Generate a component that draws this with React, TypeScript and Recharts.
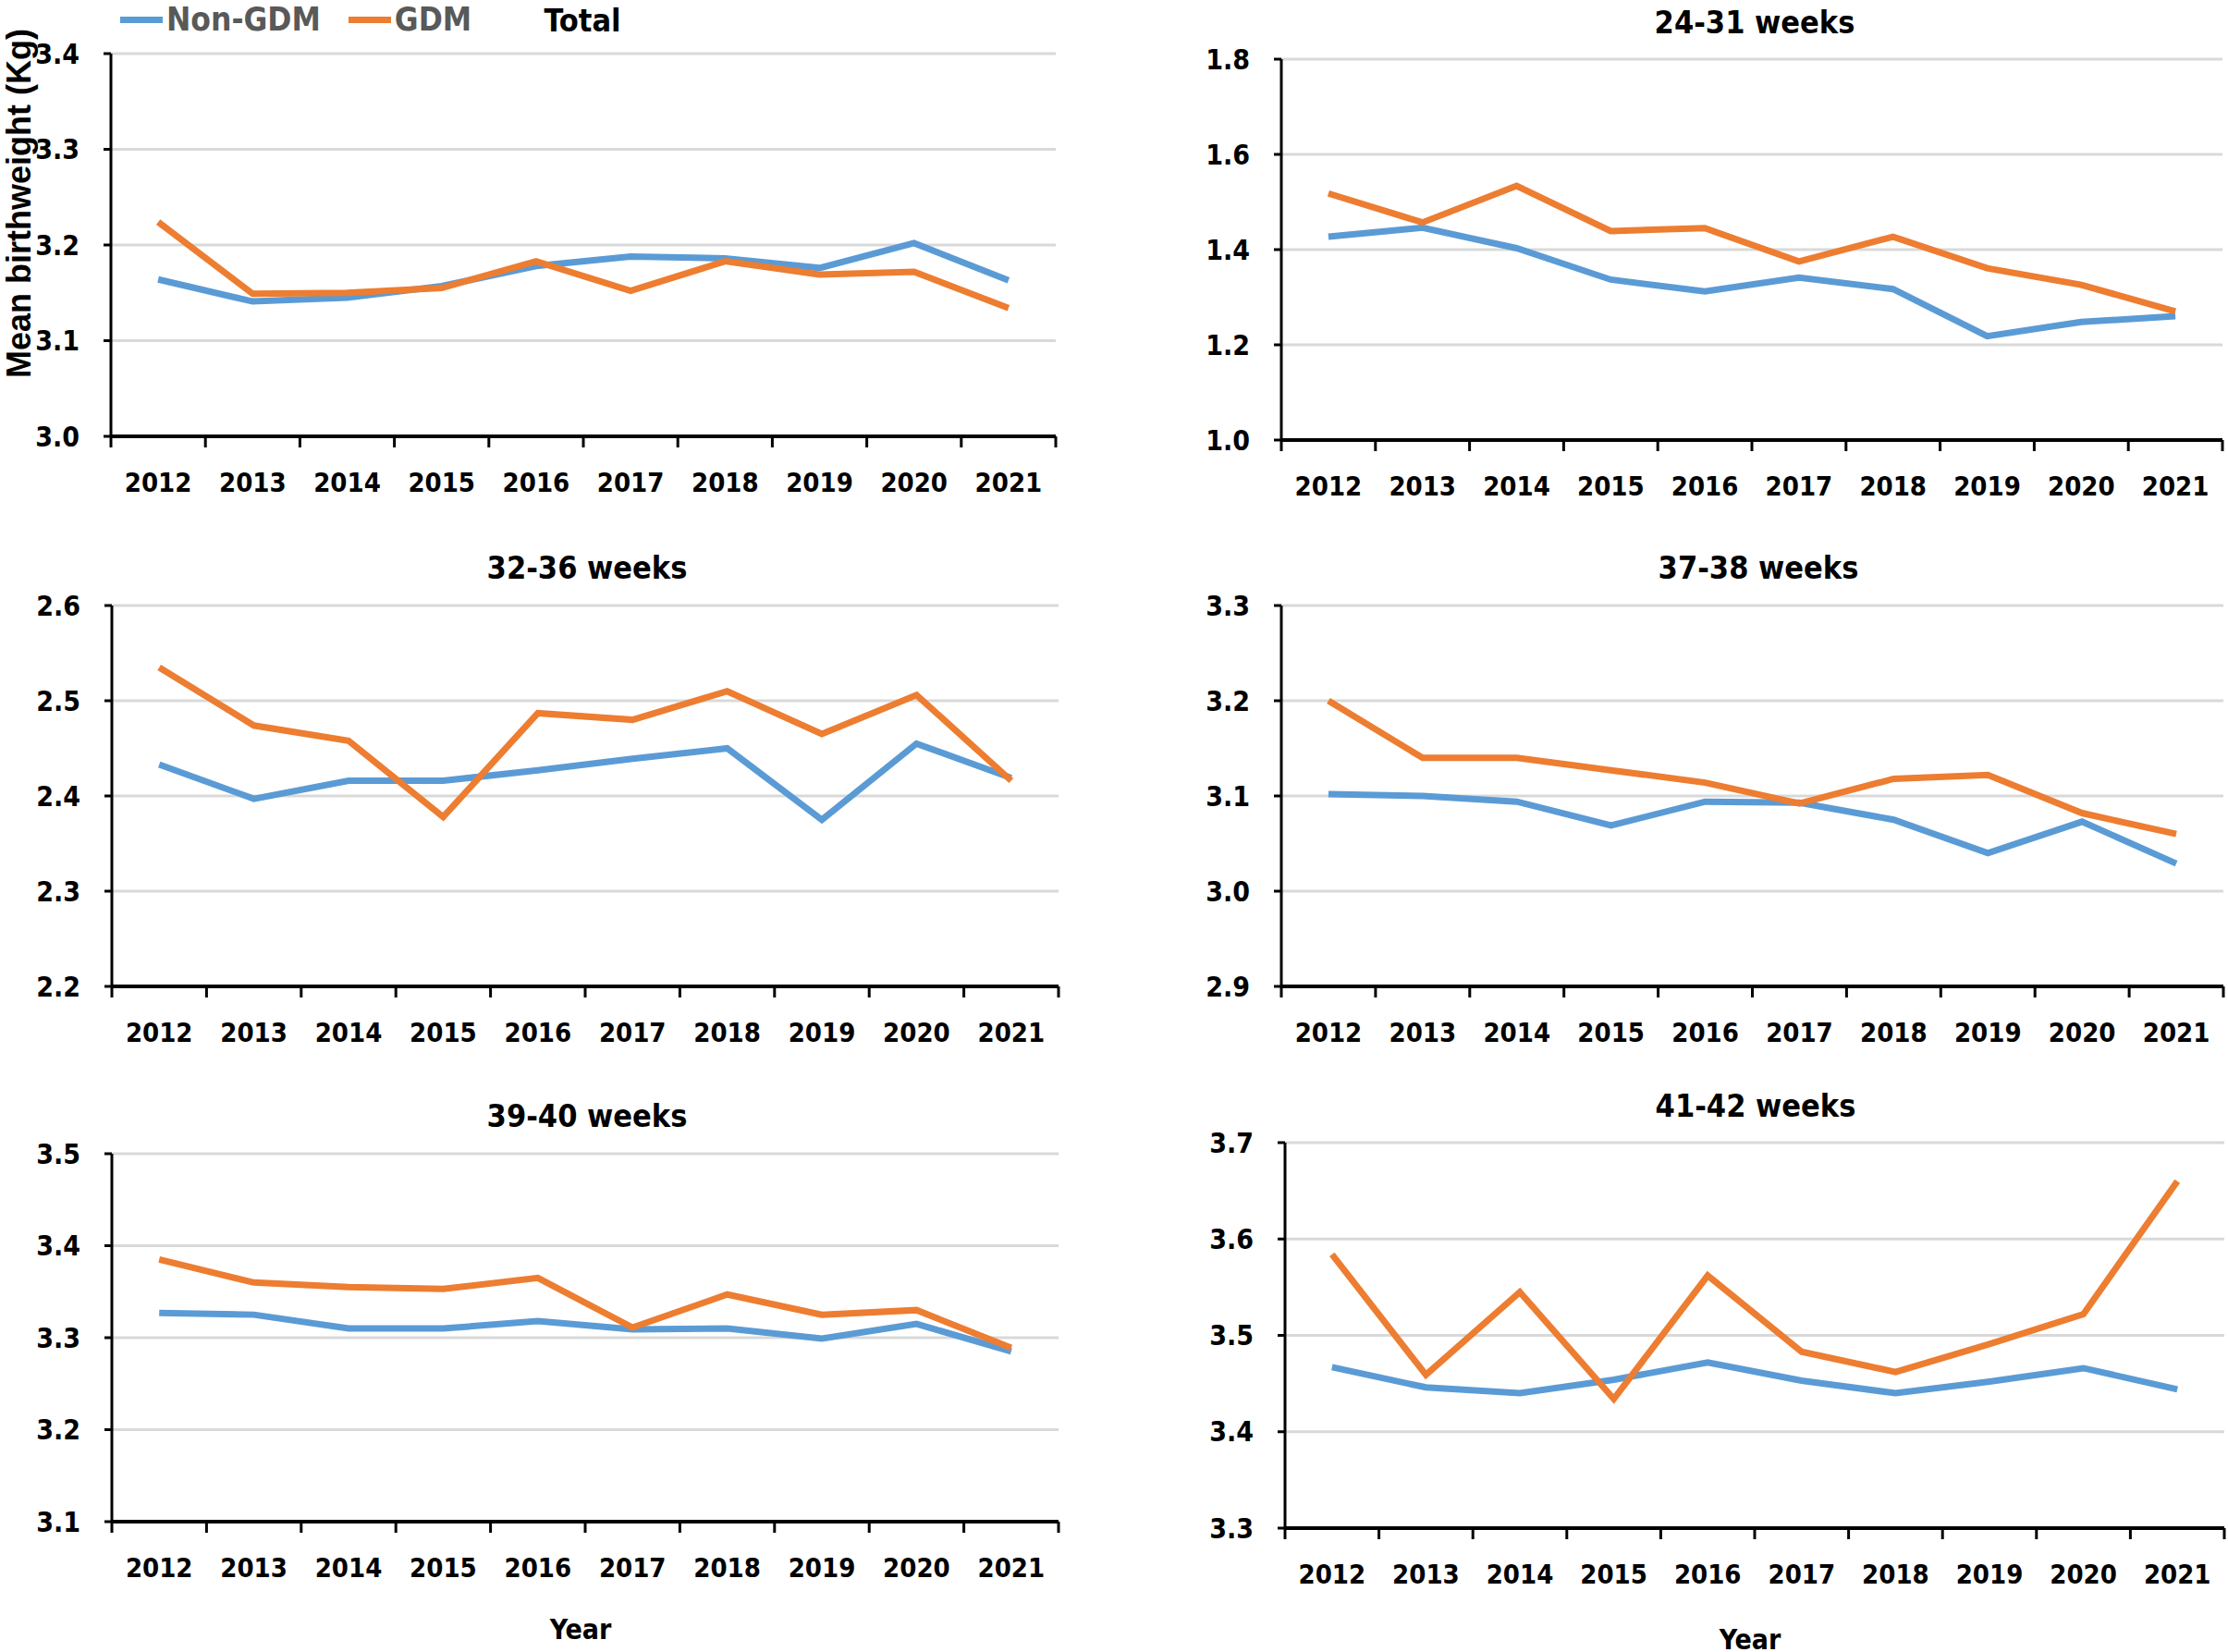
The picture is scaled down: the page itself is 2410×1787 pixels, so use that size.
import React from "react";
import { LineChart, Line, XAxis, YAxis, CartesianGrid } from "recharts";

const years = ["2012", "2013", "2014", "2015", "2016", "2017", "2018", "2019", "2020", "2021"];

const totalNonGdm = [3.164, 3.141, 3.145, 3.157, 3.178, 3.188, 3.186, 3.176, 3.202, 3.163];
const totalGdm = [3.224, 3.149, 3.15, 3.155, 3.183, 3.152, 3.183, 3.169, 3.172, 3.134];
const totalTicks = [3.0, 3.1, 3.2, 3.3, 3.4];

const w2431NonGdm = [1.427, 1.446, 1.403, 1.337, 1.312, 1.341, 1.317, 1.218, 1.248, 1.26];
const w2431Gdm = [1.518, 1.457, 1.534, 1.439, 1.445, 1.375, 1.427, 1.361, 1.326, 1.27];
const w2431Ticks = [1.0, 1.2, 1.4, 1.6, 1.8];

const w3236NonGdm = [2.433, 2.397, 2.416, 2.416, 2.427, 2.439, 2.45, 2.375, 2.455, 2.419];
const w3236Gdm = [2.535, 2.474, 2.458, 2.378, 2.487, 2.48, 2.51, 2.465, 2.506, 2.416];
const w3236Ticks = [2.2, 2.3, 2.4, 2.5, 2.6];

const w3738NonGdm = [3.102, 3.1, 3.094, 3.069, 3.094, 3.093, 3.075, 3.04, 3.073, 3.029];
const w3738Gdm = [3.2, 3.14, 3.14, 3.127, 3.114, 3.092, 3.118, 3.122, 3.082, 3.06];
const w3738Ticks = [2.9, 3.0, 3.1, 3.2, 3.3];

const w3940NonGdm = [3.327, 3.325, 3.31, 3.31, 3.318, 3.309, 3.31, 3.299, 3.315, 3.285];
const w3940Gdm = [3.385, 3.36, 3.355, 3.353, 3.365, 3.311, 3.347, 3.325, 3.33, 3.289];
const w3940Ticks = [3.1, 3.2, 3.3, 3.4, 3.5];

const w4142NonGdm = [3.467, 3.446, 3.44, 3.454, 3.472, 3.453, 3.44, 3.452, 3.466, 3.444];
const w4142Gdm = [3.584, 3.459, 3.545, 3.434, 3.562, 3.483, 3.462, 3.491, 3.522, 3.66];
const w4142Ticks = [3.3, 3.4, 3.5, 3.6, 3.7];

const BLUE = "#5B9BD5";
const ORANGE = "#ED7D31";
const NARROW = "'Liberation Sans Narrow', 'DejaVu Sans Condensed', 'Arial Narrow', sans-serif";

const YW = 120;
const MT = 30;
const MR = 12;
const XH = 90;

const YearTick = (props: any) => {
  const { x, y, payload, index, band } = props;
  return (
    <g>
      <line x1={x - band / 2} y1={y} x2={x - band / 2} y2={y + 12} stroke="#000" strokeWidth={3} />
      {index === years.length - 1 && (
        <line x1={x + band / 2} y1={y} x2={x + band / 2} y2={y + 12} stroke="#000" strokeWidth={3} />
      )}
      <text
        x={x}
        y={y + 60}
        textAnchor="middle"
        fontFamily={NARROW}
        fontWeight="bold"
        fontSize={29}
        fill="#000"
      >
        {payload.value}
      </text>
    </g>
  );
};

interface PanelProps {
  title: string;
  nonGdm: number[];
  gdm: number[];
  ticks: number[];
  box: { left: number; top: number; right: number; bottom: number };
  titleAt: [number, number];
}

const Panel: React.FC<PanelProps> = ({ title, nonGdm, gdm, ticks, box, titleAt }) => {
  const data = years.map((year, i) => ({ year, nonGdm: nonGdm[i], gdm: gdm[i] }));
  const pw = box.right - box.left;
  const width = pw + YW + MR;
  const height = box.bottom - box.top + MT + XH;
  return (
    <>
      <div style={{ position: "absolute", left: box.left - YW, top: box.top - MT }}>
        <LineChart width={width} height={height} data={data} margin={{ top: MT, right: MR, bottom: 0, left: 0 }}>
          <CartesianGrid vertical={false} stroke="#D9D9D9" strokeWidth={3} />
          <XAxis
            dataKey="year"
            height={XH}
            interval={0}
            padding={{ left: pw / 20, right: pw / 20 }}
            tickLine={false}
            tickSize={0}
            tickMargin={0}
            axisLine={{ stroke: "#000", strokeWidth: 4 }}
            tick={(p: any) => <YearTick {...p} band={pw / 10} />}
          />
          <YAxis
            type="number"
            width={YW}
            domain={[ticks[0], ticks[ticks.length - 1]]}
            ticks={ticks}
            interval={0}
            allowDataOverflow
            tickFormatter={(v: number) => v.toFixed(1)}
            tickSize={8}
            tickMargin={26}
            axisLine={{ stroke: "#000", strokeWidth: 3 }}
            tickLine={{ stroke: "#000", strokeWidth: 3 }}
            tick={{ fill: "#000", fontSize: 30, fontWeight: "bold", fontFamily: NARROW }}
          />
          <Line type="linear" dataKey="nonGdm" stroke={BLUE} strokeWidth={7} dot={false} isAnimationActive={false} />
          <Line type="linear" dataKey="gdm" stroke={ORANGE} strokeWidth={7} dot={false} isAnimationActive={false} />
        </LineChart>
      </div>
      <div
        style={{
          position: "absolute",
          left: titleAt[0],
          top: titleAt[1],
          transform: "translate(-50%, -50%)",
          fontFamily: NARROW,
          fontWeight: "bold",
          fontSize: 34,
          lineHeight: "38px",
          whiteSpace: "nowrap",
          color: "#000",
        }}
      >
        {title}
      </div>
    </>
  );
};

const App: React.FC = () => {
  return (
    <div style={{ position: "absolute", left: 0, top: 0, width: 2410, height: 1787, background: "#fff", overflow: "hidden" }}>
      <Panel title="Total" nonGdm={totalNonGdm} gdm={totalGdm} ticks={totalTicks}
        box={{ left: 120, top: 58, right: 1142, bottom: 472 }} titleAt={[630, 22]} />
      <Panel title="24-31 weeks" nonGdm={w2431NonGdm} gdm={w2431Gdm} ticks={w2431Ticks}
        box={{ left: 1386, top: 64, right: 2404, bottom: 476 }} titleAt={[1898, 24]} />
      <Panel title="32-36 weeks" nonGdm={w3236NonGdm} gdm={w3236Gdm} ticks={w3236Ticks}
        box={{ left: 121, top: 655, right: 1145, bottom: 1067 }} titleAt={[635, 614]} />
      <Panel title="37-38 weeks" nonGdm={w3738NonGdm} gdm={w3738Gdm} ticks={w3738Ticks}
        box={{ left: 1386, top: 655, right: 2405, bottom: 1067 }} titleAt={[1902, 614]} />
      <Panel title="39-40 weeks" nonGdm={w3940NonGdm} gdm={w3940Gdm} ticks={w3940Ticks}
        box={{ left: 121, top: 1248, right: 1145, bottom: 1646 }} titleAt={[635, 1207]} />
      <Panel title="41-42 weeks" nonGdm={w4142NonGdm} gdm={w4142Gdm} ticks={w4142Ticks}
        box={{ left: 1390, top: 1236, right: 2406, bottom: 1653 }} titleAt={[1899, 1196]} />

      {/* legend */}
      <div style={{ position: "absolute", left: 130, top: 21, transform: "translateY(-50%)", display: "flex", alignItems: "center",
        fontFamily: NARROW, fontWeight: "bold", fontSize: 35, lineHeight: "40px", color: "#595959", whiteSpace: "nowrap" }}>
        <span style={{ display: "inline-block", width: 46, height: 7, background: BLUE, marginRight: 4 }} />
        <span style={{ marginRight: 30 }}>Non-GDM</span>
        <span style={{ display: "inline-block", width: 46, height: 7, background: ORANGE, marginRight: 4 }} />
        <span>GDM</span>
      </div>

      {/* axis titles */}
      <div style={{ position: "absolute", left: 21, top: 220, transform: "translate(-50%, -50%) rotate(-90deg)",
        fontFamily: "'Liberation Sans', Arial, sans-serif", fontWeight: "bold", fontSize: 36, lineHeight: "38px",
        whiteSpace: "nowrap", color: "#000" }}>
        Mean birthweight (Kg)
      </div>
      <div style={{ position: "absolute", left: 628, top: 1762, transform: "translate(-50%, -50%)",
        fontFamily: NARROW, fontWeight: "bold", fontSize: 30, color: "#000" }}>
        Year
      </div>
      <div style={{ position: "absolute", left: 1893, top: 1773, transform: "translate(-50%, -50%)",
        fontFamily: NARROW, fontWeight: "bold", fontSize: 30, color: "#000" }}>
        Year
      </div>
    </div>
  );
};

export default App;
